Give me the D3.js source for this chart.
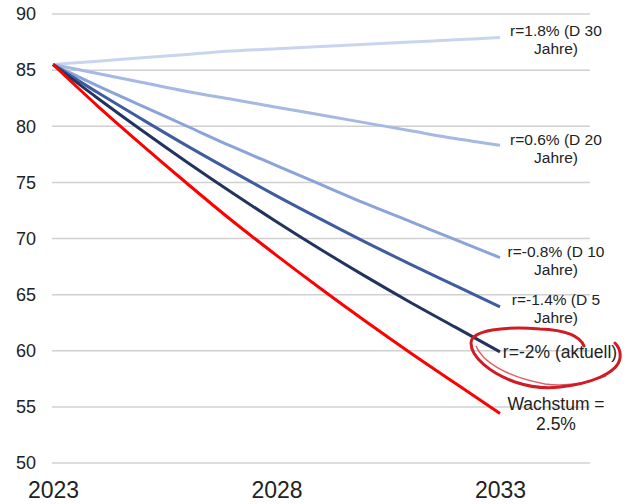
<!DOCTYPE html>
<html>
<head>
<meta charset="utf-8">
<script src="https://cdn.jsdelivr.net/npm/d3@7"></script>
<style>
  body { margin: 0; background: #fff; }
  text { font-family: "Liberation Sans", Arial, sans-serif; fill: #222; }
</style>
</head>
<body>
<div id="chart"></div>
<script>
// years on the x axis
const years = [2023, 2024, 2025, 2026, 2027, 2028, 2029, 2030, 2031, 2032, 2033];
const xTicks = [2023, 2028, 2033];
const yTicks = [50, 55, 60, 65, 70, 75, 80, 85, 90];

// debt ratio paths for each scenario
const r18  = [85.5, 85.8, 86.1, 86.4, 86.7, 86.9, 87.1, 87.3, 87.5, 87.7, 87.9];
const r06  = [85.5, 84.7, 83.9, 83.1, 82.4, 81.7, 81.0, 80.3, 79.6, 78.9, 78.3];
const rm08 = [85.5, 83.6, 81.8, 80.0, 78.2, 76.5, 74.8, 73.1, 71.5, 69.9, 68.3];
const rm14 = [85.5, 83.0, 80.6, 78.25, 76.0, 73.8, 71.7, 69.65, 67.7, 65.8, 63.9];
const rm20 = [85.5, 82.5, 79.6, 76.8, 74.1, 71.5, 69.0, 66.6, 64.3, 62.1, 59.9];
const growth = [85.5, 81.8, 78.3, 74.9, 71.6, 68.5, 65.5, 62.6, 59.8, 57.1, 54.4];

const labels = [
  ["r=1.8% (D 30", "Jahre)"],
  ["r=0.6% (D 20", "Jahre)"],
  ["r=-0.8% (D 10", "Jahre)"],
  ["r=-1.4% (D 5", "Jahre)"],
  ["r=-2% (aktuell)"],
  ["Wachstum =", "2.5%"]
];

const series = [r18, r06, rm08, rm14, rm20, growth];
const colors = ["#c9d5ef", "#a6b9e2", "#8aa4da", "#3e5c9e", "#22345e", "#ff0000"];
const labelDy = [-2, 0, -1, -2, 6, -4];
const labelSize = [15.5, 15.5, 15.5, 15.5, 17.5, 17.5];

const w = 624, h = 504;

const xScale = d3.scaleLinear().domain([2023, 2033]).range([53, 500]);
const yScale = d3.scaleLinear().domain([50, 90]).range([463, 14]);

const svg = d3.select("#chart")
  .append("svg")
  .attr("width", w)
  .attr("height", h);

// grid lines
svg.append("g")
  .selectAll("line")
  .data(yTicks)
  .enter()
  .append("line")
  .attr("x1", 52)
  .attr("x2", 590)
  .attr("y1", d => yScale(d))
  .attr("y2", d => yScale(d))
  .attr("stroke", "#d0d0d0")
  .attr("stroke-width", 1.5);

// y axis labels
const yAxis = d3.axisLeft(yScale).tickValues(yTicks).tickSize(0).tickPadding(0);
svg.append("g")
  .attr("transform", "translate(36,0)")
  .call(yAxis)
  .call(g => g.select(".domain").remove())
  .selectAll("text")
  .style("font-size", "18px")
  .attr("fill", "#222")
  .attr("font-family", "Liberation Sans, Arial, sans-serif");

// x axis labels
const xAxis = d3.axisBottom(xScale).tickValues(xTicks).tickFormat(d => d).tickSize(0).tickPadding(0);
svg.append("g")
  .attr("transform", "translate(0,482)")
  .call(xAxis)
  .call(g => g.select(".domain").remove())
  .selectAll("text")
  .style("font-size", "23px")
  .attr("fill", "#222")
  .attr("font-family", "Liberation Sans, Arial, sans-serif");

const line = d3.line()
  .x((d, i) => xScale(years[i]))
  .y(d => yScale(d))
  .curve(d3.curveMonotoneX);

svg.append("g")
  .selectAll("path")
  .data(series)
  .enter()
  .append("path")
  .attr("d", d => line(d))
  .attr("fill", "none")
  .attr("stroke", (d, i) => colors[i])
  .attr("stroke-width", 3);

// end labels
series.forEach((s, i) => {
  const t = svg.append("text")
    .attr("text-anchor", "middle")
    .attr("x", 556)
    .attr("y", yScale(s[s.length - 1]) + labelDy[i])
    .style("font-size", labelSize[i] + "px");
  labels[i].forEach((l, j) => {
    t.append("tspan")
      .attr("x", i == 4 ? 560 : 556)
      .attr("dy", j == 0 ? 0 : (labelSize[i] + 2.5))
      .text(l);
  });
});

// hand-drawn red loop around the current scenario
svg.append("path")
  .attr("d", "M584,346 C580,336 565,330 540,329 C505,326 471,330 471,343 C471,357 490,373 515,382 C530,387 545,389 560,387 C590,384 618,373 620,358 C621,350 618,346 615,343")
  .attr("fill", "none")
  .attr("stroke", "#d01c26")
  .attr("stroke-width", 3)
  .attr("stroke-linecap", "round");
svg.append("path")
  .attr("d", "M476,346 C482,361 504,376 545,384 C568,387 590,382 606,376")
  .attr("fill", "none")
  .attr("stroke", "#d01c26")
  .attr("stroke-width", 1.5)
  .attr("opacity", 0.7);
</script>
</body>
</html>
